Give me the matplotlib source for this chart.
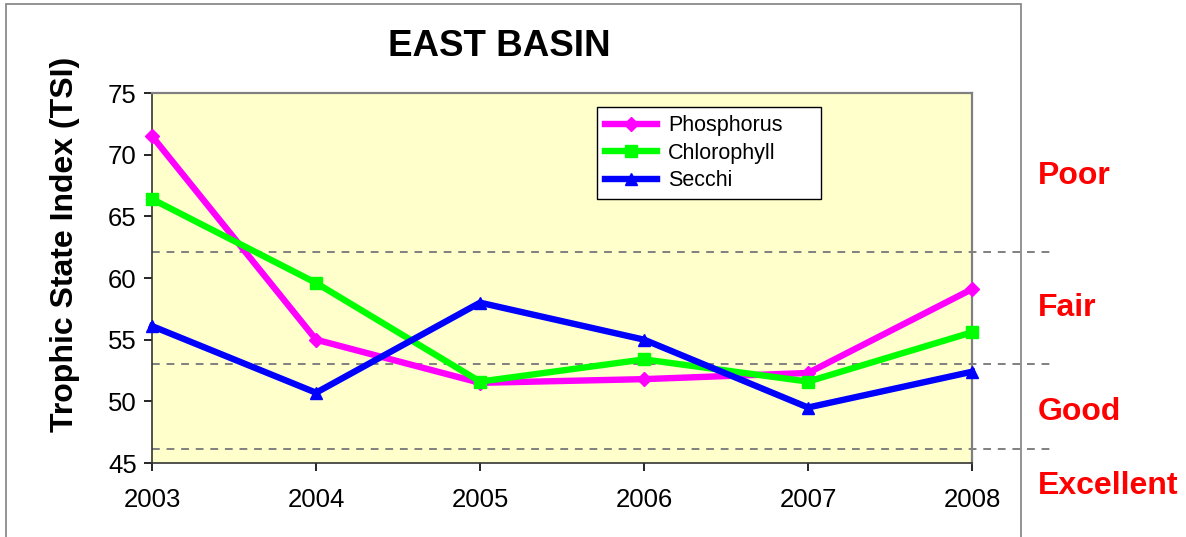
import matplotlib
matplotlib.use("Agg")
import matplotlib.pyplot as plt
from matplotlib.patches import Rectangle

plt.rcParams['font.family'] = ['Liberation Sans', 'DejaVu Sans']

years = [2003, 2004, 2005, 2006, 2007, 2008]
phosphorus = [71.5, 55.0, 51.5, 51.8, 52.3, 59.1]
chlorophyll = [66.4, 59.6, 51.6, 53.4, 51.6, 55.6]
secchi = [56.1, 50.7, 58.0, 55.0, 49.5, 52.4]

class_bounds = [62.1, 53.0, 46.1]
class_names = ["Poor", "Fair", "Good", "Excellent"]
class_label_y = [68.3, 57.6, 49.1, 43.1]

fig = plt.figure(figsize=(11.86, 5.37), dpi=100)
ax = fig.add_axes([0.1282, 0.1378, 0.6914, 0.689])
ax.set_facecolor("#FFFFCC")

# outer chart frame
fig.patches.append(Rectangle((0.005, -0.1), 0.856, 1.092, transform=fig.transFigure,
                             fill=False, edgecolor="#808080", linewidth=1.2))

for b in class_bounds:
    ax.plot([0, 1.101], [b, b], transform=ax.get_yaxis_transform(), clip_on=False,
            color="#808080", linestyle=(0, (4, 3.5)), linewidth=1.4, zorder=1)

ax.plot(years, phosphorus, color="#FF00FF", marker="D", markersize=7, linewidth=4.6,
        label="Phosphorus", clip_on=False, zorder=3)
ax.plot(years, chlorophyll, color="#00FF00", marker="s", markersize=8, linewidth=4.6,
        label="Chlorophyll", clip_on=False, zorder=3)
ax.plot(years, secchi, color="#0000FF", marker="^", markersize=9, linewidth=4.6,
        label="Secchi", clip_on=False, zorder=4)

ax.set_xlim(2003, 2008)
ax.set_ylim(45, 75)
ax.set_xticks(years)
ax.set_yticks(range(45, 76, 5))
ax.tick_params(axis="both", labelsize=18.5, direction="out", length=6, width=1.2, pad=5)
ax.tick_params(axis="x", pad=12)

for s in ["top", "right"]:
    ax.spines[s].set_color("#808080")
    ax.spines[s].set_linewidth(1.6)
for s in ["left", "bottom"]:
    ax.spines[s].set_color("#333333")
    ax.spines[s].set_linewidth(1.2)

for name, yv in zip(class_names, class_label_y):
    ax.text(1.080, yv, name, transform=ax.get_yaxis_transform(), color="#FF0000",
            fontsize=23, fontweight="bold", va="center", ha="left")

fig.text(0.421, 0.914, "EAST BASIN", fontsize=26.5, fontweight="bold", ha="center", va="center")
fig.text(0.055, 0.544, "Trophic State Index (TSI)", fontsize=23, fontweight="bold",
         rotation=90, ha="center", va="center")

leg = ax.legend(loc="upper left", bbox_to_anchor=(0.543, 0.962, 0.273, 0.0), mode="expand",
                fontsize=15.5, frameon=True, fancybox=False, edgecolor="black", framealpha=1,
                handlelength=2.4, handletextpad=0.5, borderpad=0.38, labelspacing=0.3,
                borderaxespad=0)
leg.get_frame().set_linewidth(1.0)

fig.savefig("out.png", dpi=100)
